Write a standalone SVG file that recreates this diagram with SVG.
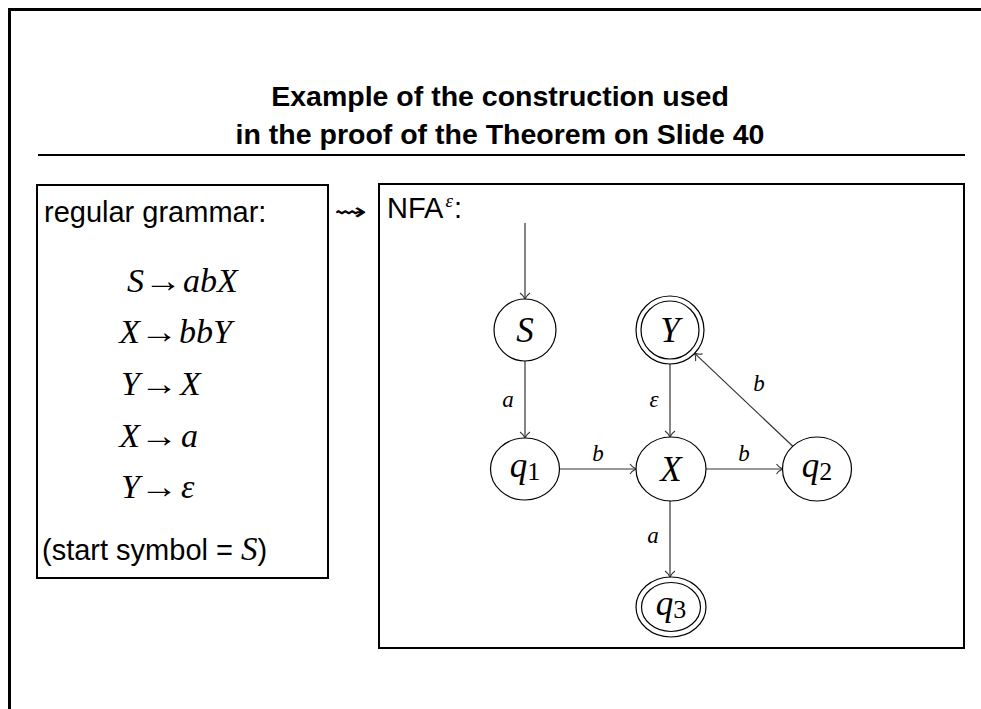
<svg xmlns="http://www.w3.org/2000/svg" width="981" height="709" viewBox="0 0 981 709">
<style>
.frame{fill:none;stroke:#000;stroke-width:3}
.box{fill:none;stroke:#000;stroke-width:2}
.title{font-family:"Liberation Sans",Arial,sans-serif;font-weight:bold;font-size:28.5px;text-anchor:middle;fill:#000}
.sans{font-family:"Liberation Sans",Arial,sans-serif;font-size:29px;fill:#000}
.math{font-family:"Liberation Serif","Times New Roman",serif;font-size:34px;font-style:italic;fill:#000}
.arr{font-family:"Liberation Serif","Times New Roman",serif;font-size:34px;fill:#000}
.lhs{text-anchor:end}
.node{fill:#fff;stroke:#000;stroke-width:1.2}
.nlabel{font-family:"Liberation Serif","Times New Roman",serif;font-style:italic;font-size:35px;text-anchor:middle;fill:#000}
.sub{font-style:normal;font-size:26px}
.elabel{font-family:"Liberation Serif","Times New Roman",serif;font-style:italic;font-size:23px;text-anchor:middle;fill:#000}
.edge{fill:none;stroke:#333;stroke-width:1.2;marker-end:url(#to)}
</style>
<defs>
<marker id="to" viewBox="-8 -6 10 12" refX="0" refY="0" markerWidth="10" markerHeight="12" orient="auto" markerUnits="userSpaceOnUse">
<path d="M-6,-5 C-4,-2 -1,-0.5 0,0 C-1,0.5 -4,2 -6,5" fill="none" stroke="#333" stroke-width="1.1"/>
</marker>
</defs>
<rect width="981" height="709" fill="#fff"/>
<path class="frame" d="M9.5,709 V9.5 H981"/>
<text class="title" x="500" y="106">Example of the construction used</text>
<text class="title" x="500" y="144">in the proof of the Theorem on Slide 40</text>
<line x1="38" y1="155" x2="965" y2="155" stroke="#000" stroke-width="2"/>

<g id="grammar">
<rect class="box" x="37" y="185" width="291" height="393"/>
<text class="sans" x="44" y="222">regular grammar:</text>
<text class="math lhs" x="144" y="292">S</text>
<text class="arr" x="144" y="292" textLength="38" lengthAdjust="spacingAndGlyphs">→</text>
<text class="math" x="183" y="292">abX</text>
<text class="math lhs" x="140" y="343">X</text>
<text class="arr" x="140" y="343" textLength="38" lengthAdjust="spacingAndGlyphs">→</text>
<text class="math" x="179" y="343">bbY</text>
<text class="math lhs" x="140" y="395">Y</text>
<text class="arr" x="140" y="395" textLength="38" lengthAdjust="spacingAndGlyphs">→</text>
<text class="math" x="180" y="395">X</text>
<text class="math lhs" x="140" y="447">X</text>
<text class="arr" x="140" y="447" textLength="38" lengthAdjust="spacingAndGlyphs">→</text>
<text class="math" x="181" y="447">a</text>
<text class="math lhs" x="140" y="498">Y</text>
<text class="arr" x="140" y="498" textLength="38" lengthAdjust="spacingAndGlyphs">→</text>
<text class="math" x="181" y="498">ε</text>
<text class="sans" x="42" y="560">(start symbol = <tspan font-family="Liberation Serif,serif" font-style="italic" font-size="33">S</tspan>)</text>
</g>

<text id="leadsto" x="334" y="220" font-family="DejaVu Sans,sans-serif" font-size="24" textLength="33" lengthAdjust="spacingAndGlyphs">⇝</text>

<g id="nfa-box">
<rect class="box" x="379" y="184" width="585" height="464"/>
<text class="sans" x="387" y="218">NFA<tspan font-family="Liberation Serif,serif" font-style="italic" font-size="19" dx="2" dy="-11">ε</tspan><tspan dx="1" dy="11">:</tspan></text>
</g>

<g id="connectors">
<line class="edge" x1="525" y1="223" x2="525" y2="299"/>
<line class="edge" x1="525" y1="361" x2="525" y2="438"/>
<line class="edge" x1="670" y1="364" x2="670" y2="437"/>
<line class="edge" x1="559.5" y1="469" x2="636" y2="469"/>
<line class="edge" x1="706" y1="469" x2="782.5" y2="469"/>
<line class="edge" x1="792.8" y1="446.2" x2="694.7" y2="353.4"/>
<line class="edge" x1="670" y1="501" x2="670" y2="577"/>
<text class="elabel" x="508" y="407">a</text>
<text class="elabel" x="654" y="407">ε</text>
<text class="elabel" x="598" y="461">b</text>
<text class="elabel" x="744" y="461">b</text>
<text class="elabel" x="759" y="391">b</text>
<text class="elabel" x="653" y="543">a</text>
</g>

<g id="S">
<circle class="node" cx="525" cy="330" r="31"/>
<text class="nlabel" x="525" y="342">S</text>
</g>
<g id="Y">
<circle class="node" cx="670" cy="330" r="34"/>
<circle class="node" cx="670" cy="330" r="29"/>
<text class="nlabel" x="670" y="342">Y</text>
</g>
<g id="q1">
<ellipse class="node" cx="525" cy="469" rx="34.5" ry="31"/>
<text class="nlabel" x="525" y="477">q<tspan class="sub" dy="3">1</tspan></text>
</g>
<g id="X">
<ellipse class="node" cx="671" cy="469" rx="35" ry="32"/>
<text class="nlabel" x="671" y="481">X</text>
</g>
<g id="q2">
<ellipse class="node" cx="817" cy="469" rx="34.5" ry="32"/>
<text class="nlabel" x="817" y="477">q<tspan class="sub" dy="3">2</tspan></text>
</g>
<g id="q3">
<ellipse class="node" cx="671" cy="607" rx="35" ry="30"/>
<ellipse class="node" cx="671" cy="607" rx="29.5" ry="24.5"/>
<text class="nlabel" x="671" y="615">q<tspan class="sub" dy="3">3</tspan></text>
</g>
</svg>
